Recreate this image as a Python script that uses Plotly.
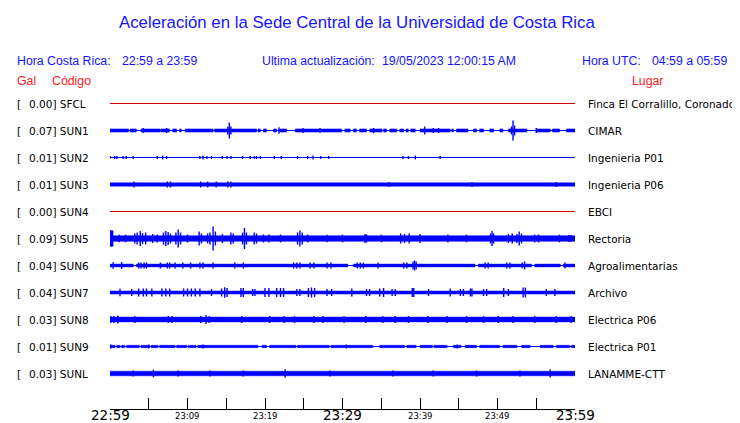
import plotly.graph_objects as go

# ---------------- data ----------------
STATIONS = ["SFCL", "SUN1", "SUN2", "SUN3", "SUN4", "SUN5", "SUN6", "SUN7", "SUN8", "SUN9", "SUNL"]
GAL = [0.00, 0.07, 0.01, 0.01, 0.00, 0.09, 0.04, 0.04, 0.03, 0.01, 0.03]
PLACES = ["Finca El Corralillo, Coronado", "CIMAR", "Ingenieria P01", "Ingenieria P06", "EBCI",
          "Rectoria", "Agroalimentarias", "Archivo", "Electrica P06", "Electrica P01", "LANAMME-CTT"]

# background noise amplitude of each trace (trace units, 27 units = one row)
NOISE = [0.0, 1.6, 0.0, 1.7, 0.0, 2.8, 1.4, 1.5, 2.4, 1.2, 2.3]

# minutes after 22:59 during which the noise band is present
SFCL_BANDS = []
SUN1_BANDS = [(0.0, 2.4), (2.6, 3.4), (4.0, 6.5), (6.6, 7.7), (8.1, 8.6), (9.0, 9.2), (9.7, 13.3),
              (13.5, 18.9), (19.1, 19.4), (19.8, 20.2), (21.1, 21.5), (21.9, 22.8), (23.9, 29.9),
              (30.3, 31.0), (31.4, 31.8), (32.2, 33.1), (33.5, 35.1), (35.3, 35.7), (36.1, 37.0),
              (37.4, 37.9), (38.2, 38.5), (38.8, 39.4), (40.0, 43.9), (44.1, 44.3), (44.7, 46.2),
              (46.9, 47.3), (47.7, 48.2), (49.0, 49.5), (50.3, 50.7), (51.4, 53.8), (55.0, 56.8),
              (57.1, 58.0), (58.9, 60.0)]
SUN2_BANDS = []
SUN3_BANDS = [(0.0, 60.0)]
SUN4_BANDS = []
SUN5_BANDS = [(0.0, 60.0), (0.0, 0.4)]
SUN6_BANDS = [(0.0, 3.0), (3.4, 30.7), (31.4, 47.1), (47.5, 54.4), (54.8, 58.1), (58.5, 60.0)]
SUN7_BANDS = [(0.0, 60.0)]
SUN8_BANDS = [(0.0, 60.0)]
SUN9_BANDS = [(0.0, 0.65), (0.86, 1.29), (1.5, 1.9), (2.15, 3.8), (4.0, 5.1), (5.3, 6.2), (6.4, 8.4),
              (8.6, 9.9), (10.1, 11.1), (11.3, 19.1), (19.6, 20.2), (20.6, 24.0), (24.2, 28.3),
              (28.5, 33.9), (34.8, 38.0), (38.3, 39.5), (40.0, 41.6), (41.8, 43.5), (44.3, 45.3),
              (45.8, 47.3), (47.7, 50.3), (50.7, 52.5), (53.1, 54.2), (55.5, 57.2), (57.6, 59.3),
              (59.5, 60.0)]
SUNL_BANDS = [(0.0, 60.0)]

# peaks: (minute, amplitude in trace units)
SFCL_PEAKS = []
SUN1_PEAKS = [(4.3, 2.5), (7.3, 2.5), (15.2, 4), (15.4, 8), (15.6, 4), (21.8, 3.3), (24.9, 2.5),
              (27.1, 2.5), (34.0, 2.5), (40.6, 4), (41.7, 2.5), (42.4, 2.5), (51.8, 4), (52.0, 10),
              (52.2, 5), (55.0, 2.5)]
SUN2_PEAKS = [(0.0, 1.5), (0.6, 1.5), (0.9, 1.5), (1.7, 1.5), (2.1, 1.5), (3.0, 1.5), (6.1, 1.5),
              (6.8, 2), (7.3, 1.5), (11.6, 1.5), (12.0, 2), (12.5, 1.5), (13.1, 1.5), (14.5, 1.5),
              (15.1, 1.5), (15.6, 1.5), (17.1, 1.5), (18.1, 1.5), (18.6, 1.5), (18.9, 1.5),
              (19.4, 1.5), (21.2, 1.5), (22.1, 1.5), (24.2, 1.5), (25.5, 1.5), (26.2, 2),
              (27.2, 1.5), (28.2, 1.5), (37.8, 1.5), (38.5, 1.5), (39.4, 2), (42.6, 1.5)]
SUN3_PEAKS = [(3.1, 3), (7.4, 3), (7.8, 3), (11.7, 3), (12.6, 3), (13.7, 3), (15.2, 3), (15.6, 3),
              (36.0, 2.5), (46.7, 2.5), (57.6, 2.5)]
SUN4_PEAKS = []
SUN5_PEAKS = [(0.1, 8), (0.3, 7.5), (1.2, 3.8), (2.0, 3.8), (3.2, 5), (3.5, 6), (3.9, 7.5),
              (4.2, 5.5), (4.6, 6), (5.5, 4.5), (6.1, 4), (6.9, 6), (7.2, 7.5), (7.5, 6.5),
              (7.8, 5), (8.5, 6), (8.8, 9), (9.1, 6), (10.0, 4), (11.5, 7), (11.8, 5), (12.6, 5),
              (12.9, 6), (13.3, 12), (13.6, 7), (14.5, 4.5), (15.6, 6), (15.9, 5), (17.1, 6),
              (17.35, 10.5), (17.6, 6), (18.6, 6), (18.9, 5), (19.8, 4), (20.5, 4), (22.0, 4),
              (24.2, 6), (24.5, 8), (24.8, 6), (25.5, 4), (28.0, 3.8), (30.0, 3.8), (32.9, 4.5),
              (33.1, 4), (35.0, 3.8), (37.5, 5), (38.0, 4.5), (38.6, 5), (40.0, 4.5), (43.6, 4),
              (46.0, 3.8), (49.1, 5), (49.3, 7.5), (49.5, 5), (51.4, 4.5), (51.9, 5), (52.5, 4.5),
              (52.8, 7), (53.1, 5), (54.8, 4), (55.3, 4), (58.0, 3.8), (59.2, 3.5), (59.5, 3.5)]
SUN6_PEAKS = [(0.4, 3.3), (1.5, 3.5), (3.7, 3), (4.0, 3), (4.4, 3), (4.7, 3), (6.5, 3), (7.4, 3),
              (7.7, 3), (8.4, 3), (9.4, 3), (10.4, 3), (11.6, 3), (12.0, 3), (13.3, 3), (16.1, 3),
              (17.2, 3), (23.7, 3), (24.1, 3), (24.5, 3), (25.8, 3), (26.3, 3), (28.0, 3), (28.5, 3),
              (31.9, 3), (32.3, 3), (32.7, 3), (34.6, 3), (37.9, 3), (38.3, 3), (39.1, 4), (39.3, 5),
              (39.5, 4), (48.4, 3), (48.8, 3), (51.2, 3), (51.6, 3), (53.2, 3), (53.5, 4), (58.7, 3)]
SUN7_PEAKS = [(1.29, 3.7), (2.8, 3.5), (3.7, 4), (4.3, 4), (4.7, 4), (5.4, 4), (6.7, 4), (7.2, 4),
              (7.7, 4), (9.5, 4), (10.0, 4), (10.5, 4), (11.0, 4), (11.6, 4), (13.1, 3.5),
              (14.4, 4), (14.8, 5.3), (15.1, 4.5), (16.9, 4.5), (17.2, 4.5), (18.4, 3.5),
              (18.7, 3.5), (20.0, 4.5), (20.5, 4.5), (21.5, 4.5), (22.0, 4.5), (22.4, 4.5),
              (24.1, 3.5), (24.5, 3.5), (25.6, 4.5), (26.0, 5), (26.4, 4.5), (28.0, 3.5),
              (28.6, 3.5), (31.2, 4), (33.1, 3.5), (33.5, 3.5), (34.8, 4), (35.3, 4.5), (36.4, 3.5),
              (36.8, 3.5), (39.0, 4.5), (39.2, 4.5), (41.1, 3.5), (43.9, 4), (45.2, 3.5),
              (45.6, 3.5), (46.5, 4), (46.7, 4), (48.2, 3.5), (48.6, 3.5), (50.8, 4.5), (51.4, 3.5),
              (53.3, 5), (53.6, 5), (56.3, 3.5), (57.4, 3.5)]
SUN8_PEAKS = [(0.1, 3.5), (0.5, 3.5), (1.0, 4), (3.2, 3.5), (7.5, 3.5), (8.0, 3.5), (11.7, 3.5),
              (12.4, 4.5), (12.8, 3.5), (17.0, 3.5), (20.6, 3.5), (22.5, 3.5), (23.8, 3.5),
              (26.3, 3.5), (27.5, 3.5), (30.2, 3.5), (33.0, 3.5), (35.2, 3.5), (36.8, 3.5),
              (38.5, 3.5), (41.0, 3.5), (43.5, 3.5), (46.0, 3.5), (48.2, 3.5), (50.1, 3.5),
              (52.0, 3.5), (54.8, 3.5), (57.6, 3.5), (59.5, 3.5)]
SUN9_PEAKS = [(0.1, 2), (5.0, 2), (12.0, 2), (30.5, 2), (44.8, 2)]
SUNL_PEAKS = [(3.0, 3), (5.6, 3.8), (8.8, 3), (12.9, 3), (17.2, 3), (22.6, 4.3), (28.4, 3),
              (36.5, 3), (41.7, 3), (47.3, 3), (52.9, 3), (56.8, 4)]

BANDS = [SFCL_BANDS, SUN1_BANDS, SUN2_BANDS, SUN3_BANDS, SUN4_BANDS, SUN5_BANDS, SUN6_BANDS,
         SUN7_BANDS, SUN8_BANDS, SUN9_BANDS, SUNL_BANDS]
PEAKS = [SFCL_PEAKS, SUN1_PEAKS, SUN2_PEAKS, SUN3_PEAKS, SUN4_PEAKS, SUN5_PEAKS, SUN6_PEAKS,
         SUN7_PEAKS, SUN8_PEAKS, SUN9_PEAKS, SUNL_PEAKS]
START_BURST = [0, 0, 0, 0, 0, 7.8, 0, 0, 0, 0, 0]   # opening transient amplitude

TICK_MINUTES = list(range(0, 61, 5))
LABEL_MINUTES = [0, 10, 20, 30, 40, 50, 60]
TICK_LABELS = ["22:59", "23:09", "23:19", "23:29", "23:39", "23:49", "23:59"]

TITLE = "Aceleración en la Sede Central de la Universidad de Costa Rica"

# ---------------- layout geometry (page pixels) ----------------
OFF = 8                    # the page body margin offsets the figure by 8px
W, H = 740 - OFF, 423 - OFF
L, R, T, B = 110, 575, 90, 409
ROW_UNITS = 27.0           # trace units per row spacing
n = len(STATIONS)
YMIN = 1 - 35.5 / ROW_UNITS      # rows land on pixel centres for crisp 1px lines
YMAX = YMIN + (B - T) / ROW_UNITS

BLUE = "#0000ff"
RED = "#d40000"
TXT_BLUE = "#1414ff"
TXT_RED = "#ff1a1a"


def pxx(x):
    return (x - L) / (R - L)


def pxy(y):
    return (B - y) / (B - T)


fig = go.Figure()

for i, st in enumerate(STATIONS):
    row = n - i
    color = RED if GAL[i] == 0 else BLUE
    fig.add_trace(go.Scatter(x=[0, 60], y=[row, row], mode="lines",
                             line=dict(color=color, width=1), hoverinfo="skip", showlegend=False))
    xs, ys = [], []
    for k, (a, b) in enumerate(BANDS[i]):
        h = NOISE[i] / ROW_UNITS
        if k == 1 and START_BURST[i]:
            h = START_BURST[i] / ROW_UNITS
        xs += [a, b, b, a, a, None]
        ys += [row - h, row - h, row + h, row + h, row - h, None]
    if xs:
        fig.add_trace(go.Scatter(x=xs, y=ys, mode="lines", fill="toself", fillcolor=color,
                                 line=dict(color=color, width=0.5), hoverinfo="skip",
                                 showlegend=False))
    xs, ys = [], []
    for t, a in PEAKS[i]:
        xs += [t, t, None]
        ys += [row - a / ROW_UNITS, row + a / ROW_UNITS, None]
    if xs:
        fig.add_trace(go.Scatter(x=xs, y=ys, mode="lines", line=dict(color=color, width=1.4),
                                 hoverinfo="skip", showlegend=False))

ann = []
LBL_FONT = dict(family="DejaVu Sans", size=10.5, color="black")
for i, st in enumerate(STATIONS):
    row = n - i
    ann.append(dict(x=pxx(15), y=row, xref="paper", yref="y", text="[", showarrow=False,
                    xanchor="left", yanchor="middle", font=LBL_FONT))
    ann.append(dict(x=pxx(27), y=row, xref="paper", yref="y", text=f"{GAL[i]:.2f}] {st}",
                    showarrow=False, xanchor="left", yanchor="middle", font=LBL_FONT))
    ann.append(dict(x=pxx(586), y=row, xref="paper", yref="y", text=PLACES[i], showarrow=False,
                    xanchor="left", yanchor="middle", font=LBL_FONT))

for m, lab in zip(LABEL_MINUTES, TICK_LABELS):
    major = m % 30 == 0
    ann.append(dict(x=m, y=pxy(415 if major else 415.5), xref="x", yref="paper", text=lab,
                    showarrow=False, xanchor="center", yanchor="middle",
                    font=dict(family="DejaVu Sans", size=13.5 if major else 8.5, color="black")))

HDR = dict(family="Liberation Sans", size=12.3, color=TXT_BLUE)
HDR_R = dict(family="Liberation Sans", size=12.3, color=TXT_RED)
for x, txt, f in [(15, "Hora Costa Rica:", HDR), (120, "22:59 a 23:59", HDR),
                  (260, "Ultima actualización:", HDR), (380, "19/05/2023 12:00:15 AM", HDR),
                  (580, "Hora UTC:", HDR), (650, "04:59 a 05:59", HDR)]:
    ann.append(dict(x=pxx(x), y=pxy(61), xref="paper", yref="paper", text=txt, showarrow=False,
                    xanchor="left", yanchor="middle", font=f))
for x, txt in [(15, "Gal"), (50, "Código"), (630, "Lugar")]:
    ann.append(dict(x=pxx(x), y=pxy(80.5), xref="paper", yref="paper", text=txt, showarrow=False,
                    xanchor="left", yanchor="middle", font=HDR_R))

ann.append(dict(x=pxx(356.5), y=pxy(22), xref="paper", yref="paper", text=TITLE, showarrow=False,
                xanchor="center", yanchor="middle",
                font=dict(family="Liberation Sans", size=16.8, color=TXT_BLUE)))

fig.update_layout(
    width=W, height=H, template="none",
    margin=dict(l=L - OFF, r=740 - R, t=T - OFF, b=423 - B, pad=0),
    paper_bgcolor="white", plot_bgcolor="white",
    showlegend=False, annotations=ann,
    xaxis=dict(range=[0, 60], showgrid=False, zeroline=False, showline=True, linecolor="black",
               linewidth=1, ticks="inside", ticklen=11, tickcolor="black", tickwidth=1,
               tickvals=TICK_MINUTES, showticklabels=False, automargin=False, fixedrange=True),
    yaxis=dict(range=[YMIN, YMAX], visible=False, showgrid=False, zeroline=False,
               automargin=False, fixedrange=True),
)

fig.write_html("out.html")
